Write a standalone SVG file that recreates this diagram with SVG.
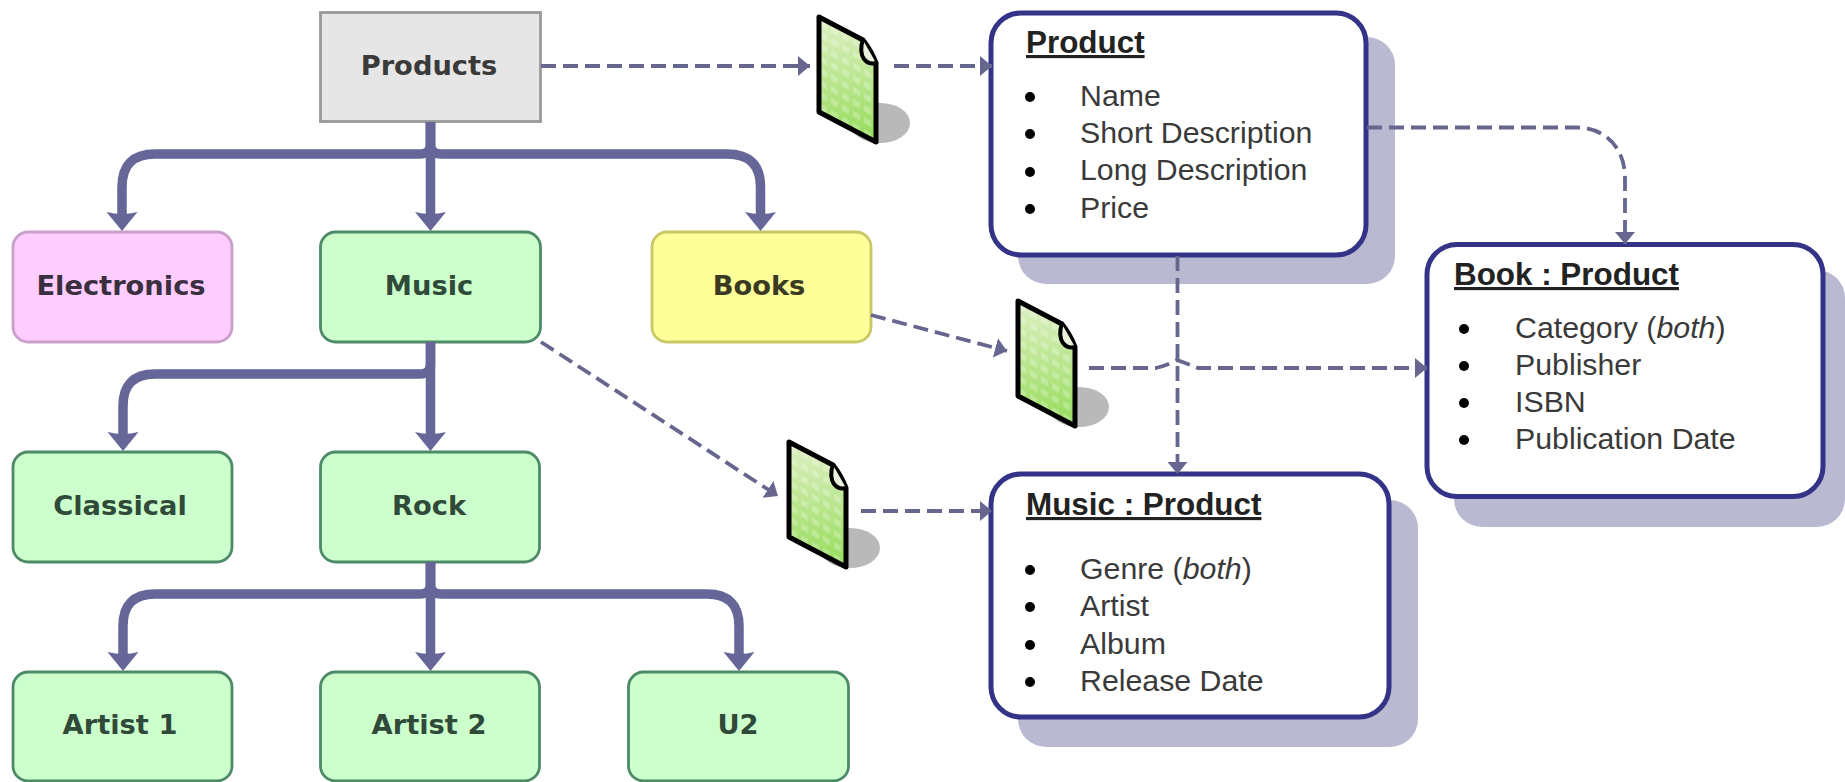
<svg xmlns="http://www.w3.org/2000/svg" xmlns:xlink="http://www.w3.org/1999/xlink" width="1845" height="782" viewBox="0 0 1845 782">
<style>
.node{stroke-width:2.8}
.lbl{font-family:"DejaVu Sans",Verdana,sans-serif;font-weight:700;font-size:27.300px;text-anchor:middle}
.grey{fill:#e6e6e6;stroke:#999}
.pink{fill:#ffccff;stroke:#c9a0c9}
.green{fill:#ccffcc;stroke:#4d8a68}
.yellow{fill:#ffff99;stroke:#c8c866}
.gt{fill:#2f4a38}
.shadow{fill:#b9b9d2}
.card{fill:#fff;stroke:#333388;stroke-width:5}
.h{font-family:"Liberation Sans",Arial,sans-serif;font-weight:700;font-size:31.400px;text-decoration:underline;fill:#222}
.t{font-family:"Liberation Sans",Arial,sans-serif;font-size:30.300px;fill:#3a3a3a}
.i{font-style:italic}
.thick{fill:none;stroke:#666699;stroke-width:9.5}
.dash{fill:none;stroke:#66668f;stroke-width:3.8;stroke-dasharray:15 7}
</style>
<defs>
<marker id="big" markerUnits="userSpaceOnUse" markerWidth="22" markerHeight="34" viewBox="0 -17 22 34" refX="11" refY="0" orient="auto"><path d="M0 -15.5L19 0L0 15.5Q4 0 0 -15.5z" fill="#666699"/></marker>
<marker id="small" markerUnits="userSpaceOnUse" markerWidth="14" markerHeight="22" viewBox="0 -11 14 22" refX="12" refY="0" orient="auto"><path d="M0 -10L12 0L0 10z" fill="#66668f"/></marker>
<linearGradient id="docfill" x1="0" y1="0" x2="0" y2="1"><stop offset="0" stop-color="#dff0c4"/><stop offset="1" stop-color="#95dc5a"/></linearGradient>
<pattern id="docmark" width="11" height="12" patternUnits="userSpaceOnUse" patternTransform="skewY(30)"><rect x="1" y="2" width="7" height="6" fill="#fff" opacity=".25"/></pattern>
<g id="doc">
<ellipse cx="61" cy="106" rx="30" ry="20" fill="#b9b9b9"/>
<path d="M0 0L44 23Q52 33 57 46V125L0 95z" fill="url(#docfill)"/>
<path d="M0 0L44 23Q52 33 57 46V125L0 95z" fill="url(#docmark)" stroke="#000" stroke-width="5" stroke-linejoin="round"/>
<path d="M44 23C41 30 42 38 45 42C48 46 53 47 57 46" fill="#e8f2dc" stroke="#000" stroke-width="4"/>
</g>
</defs>
<rect width="1845" height="782" fill="#fff"/>
<g id="n-products"><rect class="node grey" x="320.500" y="12.500" width="220" height="109"/><text class="lbl" x="429" y="75" fill="#3a3a3a">Products</text></g>
<g id="n-electronics"><rect class="node pink" x="13" y="232" width="219" height="110" rx="15"/><text class="lbl" x="121" y="295" fill="#3a2f3f">Electronics</text></g>
<g id="n-music"><rect class="node green" x="320.500" y="232" width="220" height="110" rx="15"/><text class="lbl gt" x="429" y="295">Music</text></g>
<g id="n-books"><rect class="node yellow" x="652" y="232" width="219" height="110" rx="15"/><text class="lbl" x="759" y="295" fill="#3a3a22">Books</text></g>
<g id="n-classical"><rect class="node green" x="13" y="452" width="219" height="110" rx="15"/><text class="lbl gt" x="120" y="515">Classical</text></g>
<g id="n-rock"><rect class="node green" x="320.500" y="452" width="219" height="110" rx="15"/><text class="lbl gt" x="429" y="515">Rock</text></g>
<g id="n-artist1"><rect class="node green" x="13" y="672" width="219" height="109" rx="15"/><text class="lbl gt" x="120" y="734">Artist 1</text></g>
<g id="n-artist2"><rect class="node green" x="320.500" y="672" width="219" height="109" rx="15"/><text class="lbl gt" x="429" y="734">Artist 2</text></g>
<g id="n-u2"><rect class="node green" x="628.500" y="672" width="220" height="109" rx="15"/><text class="lbl gt" x="738" y="734">U2</text></g>
<g id="doc-1"><use href="#doc" xlink:href="#doc" x="819" y="17"/></g>
<g id="doc-2"><use href="#doc" xlink:href="#doc" x="1018" y="301"/></g>
<g id="doc-3"><use href="#doc" xlink:href="#doc" x="789" y="442"/></g>
<g id="c-product">
<rect class="shadow" x="1018" y="37" width="377" height="247" rx="28"/>
<rect class="card" x="991" y="13" width="375" height="242" rx="30"/>
<text class="h" x="1026" y="53">Product</text>
<circle cx="1030" cy="97" r="5"/><text class="t" x="1080" y="106">Name</text>
<circle cx="1030" cy="134" r="5"/><text class="t" x="1080" y="143">Short Description</text>
<circle cx="1030" cy="172" r="5"/><text class="t" x="1080" y="180">Long Description</text>
<circle cx="1030" cy="209" r="5"/><text class="t" x="1080" y="218">Price</text>
</g>
<g id="c-book">
<rect class="shadow" x="1454" y="270" width="391" height="257" rx="28"/>
<rect class="card" x="1427" y="244.500" width="396" height="252" rx="30"/>
<text class="h" x="1454" y="285">Book : Product</text>
<circle cx="1464" cy="329" r="5"/><text class="t" x="1515" y="338">Category (<tspan class="i">both</tspan>)</text>
<circle cx="1464" cy="366" r="5"/><text class="t" x="1515" y="375">Publisher</text>
<circle cx="1464" cy="403" r="5"/><text class="t" x="1515" y="412">ISBN</text>
<circle cx="1464" cy="440" r="5"/><text class="t" x="1515" y="449">Publication Date</text>
</g>
<g id="c-music">
<rect class="shadow" x="1018" y="500" width="400" height="247" rx="28"/>
<rect class="card" x="991" y="474" width="398" height="243" rx="30"/>
<text class="h" x="1026" y="515">Music : Product</text>
<circle cx="1030" cy="570" r="5"/><text class="t" x="1080" y="579">Genre (<tspan class="i">both</tspan>)</text>
<circle cx="1030" cy="607" r="5"/><text class="t" x="1080" y="616">Artist</text>
<circle cx="1030" cy="645" r="5"/><text class="t" x="1080" y="654">Album</text>
<circle cx="1030" cy="682" r="5"/><text class="t" x="1080" y="691">Release Date</text>
</g>
<g id="connectors">
<path class="thick" marker-end="url(#big)" d="M430.5 122V144Q430.5 154 420 154H155Q122 154 122 187V223"/>
<path class="thick" marker-end="url(#big)" d="M430.5 122V223"/>
<path class="thick" marker-end="url(#big)" d="M430.5 122V144Q430.5 154 441 154H727Q760.5 154 760.5 187V223"/>
<path class="thick" marker-end="url(#big)" d="M430.5 342V364Q430.5 374 420 374H155Q123 374 123 406V443"/>
<path class="thick" marker-end="url(#big)" d="M430.5 342V443"/>
<path class="thick" marker-end="url(#big)" d="M430.5 562V584Q430.5 594 420 594H155Q123 594 123 626V663"/>
<path class="thick" marker-end="url(#big)" d="M430.5 562V663"/>
<path class="thick" marker-end="url(#big)" d="M430.5 562V584Q430.5 594 441 594H707Q739 594 739 626V663"/>
<path class="dash" marker-end="url(#small)" d="M541 66H810"/>
<path class="dash" marker-end="url(#small)" d="M894 66H992"/>
<path class="dash" marker-end="url(#small)" d="M1367 127.500H1577C1603 127.500 1625 146 1625 178V244"/>
<path class="dash" marker-end="url(#small)" d="M1177.500 256V474"/>
<path class="dash" marker-end="url(#small)" d="M871 315L1007 351"/>
<path class="dash" marker-end="url(#small)" d="M1089 368H1156Q1166 366 1177 360Q1188 364 1198 368H1427"/>
<path class="dash" marker-end="url(#small)" d="M541 342L778 496"/>
<path class="dash" marker-end="url(#small)" d="M861 511H992"/>
</g>
</svg>
